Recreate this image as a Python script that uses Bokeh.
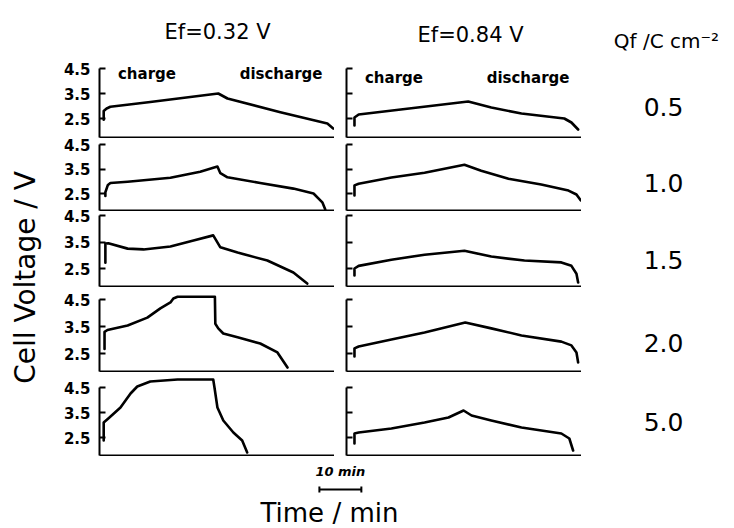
import math
from bokeh.plotting import figure
from bokeh.layouts import row, column
from bokeh.models import Range1d, FixedTicker, LinearAxis
from bokeh.embed import file_html
from bokeh.resources import INLINE
from bokeh.core.properties import value

# ---------------- data ----------------
col_titles = ["Ef=0.32 V", "Ef=0.84 V"]
qf_title = "Qf /C cm\u207b\u00b2"
qf_values = ["0.5", "1.0", "1.5", "2.0", "5.0"]
y_ticks = [2.5, 3.5, 4.5]
phase_labels = ["charge", "discharge"]
phase_label_t = [4.4, 33.4]
scale_bar_start = 52.4
scale_bar_len = 10

# Ef = 0.32 V (left column), time in min, voltage in V
t_l1 = [1.0, 1.0, 1.7, 2.6, 12.1, 28.3, 30.5, 43.1, 54.3, 55.7]
v_l1 = [2.45, 2.8, 2.9, 2.97, 3.16, 3.5, 3.3, 2.75, 2.3, 2.1]
t_l2 = [1.4, 1.4, 2.0, 2.6, 6.7, 16.9, 24.0, 28.1, 28.8, 30.5, 38.3, 46.2, 51.0, 53.1, 53.8]
v_l2 = [2.4, 2.55, 2.85, 2.93, 2.98, 3.14, 3.39, 3.6, 3.33, 3.16, 2.93, 2.7, 2.5, 2.14, 1.85]
t_l3 = [1.4, 1.4, 2.1, 6.7, 10.5, 16.9, 22.4, 27.1, 28.8, 32.9, 40.0, 46.2, 49.5]
v_l3 = [2.72, 3.44, 3.45, 3.25, 3.22, 3.33, 3.56, 3.75, 3.3, 3.1, 2.8, 2.35, 1.93]
t_l4 = [1.2, 1.2, 1.9, 6.7, 11.4, 14.5, 16.9, 17.6, 18.6, 27.5, 27.6, 28.3, 29.5, 32.9, 38.3, 42.4, 44.8]
v_l4 = [2.67, 3.3, 3.37, 3.54, 3.83, 4.17, 4.39, 4.54, 4.6, 4.6, 3.6, 3.43, 3.24, 3.1, 2.87, 2.54, 1.98]
t_l5 = [1.0, 1.0, 2.1, 5.0, 7.4, 9.0, 12.1, 18.6, 27.1, 27.4, 28.1, 29.5, 31.9, 34.0, 35.2]
v_l5 = [2.38, 3.1, 3.26, 3.7, 4.26, 4.54, 4.74, 4.82, 4.82, 4.5, 3.7, 3.18, 2.7, 2.38, 1.9]

# Ef = 0.84 V (right column)
t_r1 = [1.9, 1.9, 2.9, 29.0, 34.5, 41.7, 51.9, 53.6, 55.2]
v_r1 = [2.22, 2.54, 2.66, 3.18, 2.94, 2.7, 2.5, 2.34, 2.06]
t_r2 = [1.9, 1.9, 2.9, 10.7, 18.6, 28.1, 32.1, 38.6, 46.4, 52.9, 54.8, 55.8]
v_r2 = [2.42, 2.83, 2.9, 3.15, 3.35, 3.67, 3.43, 3.1, 2.87, 2.62, 2.46, 2.22]
t_r3 = [1.9, 1.9, 2.9, 10.7, 18.6, 28.1, 34.5, 42.4, 51.2, 53.6, 54.8, 55.2]
v_r3 = [2.24, 2.5, 2.6, 2.83, 3.02, 3.17, 2.95, 2.8, 2.73, 2.6, 2.3, 1.97]
t_r4 = [1.9, 1.9, 2.9, 10.7, 18.6, 28.3, 34.5, 41.7, 51.2, 53.6, 54.8, 55.2]
v_r4 = [2.39, 2.69, 2.76, 3.02, 3.28, 3.65, 3.43, 3.17, 2.94, 2.8, 2.54, 2.17]
t_r5 = [1.9, 1.9, 2.9, 10.7, 18.6, 24.3, 27.9, 29.8, 34.5, 41.7, 51.2, 53.1, 54.0]
v_r5 = [2.26, 2.66, 2.7, 2.86, 3.1, 3.3, 3.58, 3.38, 3.18, 2.9, 2.66, 2.46, 1.98]

left_series = [(t_l1, v_l1), (t_l2, v_l2), (t_l3, v_l3), (t_l4, v_l4), (t_l5, v_l5)]
right_series = [(t_r1, v_r1), (t_r2, v_r2), (t_r3, v_r3), (t_r4, v_r4), (t_r5, v_r5)]

# ---------------- layout (pixels) ----------------
W, H = 734, 528
HEAD_H = 60
row_edges = [60, 138, 211, 287, 372, 456]        # panel row boundaries (x-axis lines)
label_edges = [60, 131, 204, 283, 370, 456]      # boundaries of tick-label strips
px_per_volt = [25, 24.5, 26.5, 27, 25]
px_of_2p5 = [118, 193, 268, 353, 437]
qf_label_px = [107, 183, 260, 343, 422]
T_MAX = 56
FONT_NAME = "DejaVu Sans"
FONT = value(FONT_NAME)
W_YLAB, W_LAB, W_LEFT, W_RIGHT = 58, 39, 237, 247
W_QF = W - W_YLAB - W_LAB - W_LEFT - W_RIGHT
FOOT_H = H - row_edges[-1]


def v_at(i, px):
    return 2.5 + (px_of_2p5[i] - px) / px_per_volt[i]


def blank(width, height, xr, yr):
    p = figure(width=width, height=height, x_range=xr, y_range=yr,
               output_backend="svg", toolbar_location=None,
               x_axis_location=None, y_axis_location=None,
               min_border_left=0, min_border_right=0, min_border_top=0, min_border_bottom=0)
    p.grid.visible = False
    p.outline_line_color = None
    p.background_fill_color = "white"
    p.border_fill_color = "white"
    return p


def panel(i, t, v, width, border_left, phase_y=None):
    top, bot = row_edges[i], row_edges[i + 1]
    yr = Range1d(v_at(i, bot - 1), v_at(i, top))
    p = blank(width, bot - top, Range1d(0, T_MAX), yr)
    p.min_border_left = border_left
    p.min_border_bottom = 1
    yax = LinearAxis(ticker=FixedTicker(ticks=y_ticks), bounds=(yr.start, 4.5),
                     major_tick_in=6, major_tick_out=0, minor_tick_line_color=None,
                     axis_line_width=2, major_tick_line_width=2, major_label_standoff=0,
                     major_label_overrides={tk: "" for tk in y_ticks})
    p.add_layout(yax, "left")
    xax = LinearAxis(ticker=FixedTicker(ticks=[]), major_tick_in=0, major_tick_out=0,
                     minor_tick_line_color=None, axis_line_width=2, major_label_standoff=0)
    p.add_layout(xax, "below")
    p.line(t, v, line_width=2.6, color="black", line_join="round", line_cap="round")
    if phase_y is not None:
        p.text(x=phase_label_t, y=[phase_y, phase_y], text=phase_labels,
               text_font=FONT, text_font_style="bold", text_font_size="15px",
               text_align="left", text_baseline="middle", text_color="black")
    return p


def tick_label_strip(i):
    top, bot = label_edges[i], label_edges[i + 1]
    p = blank(W_LAB, bot - top, Range1d(0, 1), Range1d(v_at(i, bot), v_at(i, top)))
    p.min_border_left = W_LAB - 1
    ax = LinearAxis(ticker=FixedTicker(ticks=y_ticks), axis_line_color=None,
                    major_tick_line_color=None, minor_tick_line_color=None,
                    major_tick_in=0, major_tick_out=0, major_label_standoff=6,
                    major_label_text_font=FONT_NAME, major_label_text_font_style="bold",
                    major_label_text_font_size="15px", major_label_text_color="black")
    p.add_layout(ax, "left")
    return p


rows = []
strips = []
for i in range(5):
    lp = panel(i, *left_series[i], W_LEFT, 2, v_at(0, 73) if i == 0 else None)
    rp = panel(i, *right_series[i], W_RIGHT, 12, v_at(0, 77) if i == 0 else None)
    top, bot = row_edges[i], row_edges[i + 1]
    qp = blank(W_QF, bot - top, Range1d(0, 1), Range1d(v_at(i, bot), v_at(i, top)))
    qp.text(x=[0.536], y=[v_at(i, qf_label_px[i])], text=[qf_values[i]], text_font=FONT,
            text_font_size="25px", text_align="center", text_baseline="middle",
            text_color="black")
    rows.append(row(lp, rp, qp))
    strips.append(tick_label_strip(i))

panels_h = row_edges[-1] - row_edges[0]

# y label
ylab = blank(W_YLAB, panels_h, Range1d(0, W_YLAB), Range1d(0, panels_h))
ylab.text(x=[25], y=[row_edges[-1] - 277], text=["Cell Voltage / V"], angle=math.pi / 2,
          text_font=FONT, text_font_size="28px", text_align="center",
          text_baseline="middle", text_color="black")

# header (y measured from its bottom)
head = blank(W, HEAD_H, Range1d(0, W), Range1d(0, HEAD_H))
head.text(x=[217, 470], y=[HEAD_H - 31, HEAD_H - 34], text=col_titles, text_font=FONT,
          text_font_size="21px", text_align="center", text_baseline="middle",
          text_color="black")
head.text(x=[666], y=[HEAD_H - 40], text=[qf_title], text_font=FONT, text_font_size="20px",
          text_align="center", text_baseline="middle", text_color="black")

# footer: x in minutes aligned with the left panels
px_per_min = 235 / T_MAX
x0 = -(W_YLAB + W_LAB + 2) / px_per_min
foot = blank(W, FOOT_H, Range1d(x0, x0 + W / px_per_min), Range1d(0, FOOT_H))
bar_end = scale_bar_start + scale_bar_len
bar_y = H - 489
foot.segment(x0=[scale_bar_start], y0=[bar_y], x1=[bar_end], y1=[bar_y], line_width=2, color="black")
foot.segment(x0=[scale_bar_start, bar_end], y0=[bar_y - 3, bar_y - 3], x1=[scale_bar_start, bar_end],
             y1=[bar_y + 3, bar_y + 3], line_width=2, color="black")
foot.text(x=[scale_bar_start + scale_bar_len / 2], y=[H - 471], text=["10 min"], text_font=FONT,
          text_font_style="bold italic", text_font_size="13px", text_align="center",
          text_baseline="middle", text_color="black")
foot.text(x=[54.8], y=[16], text=["Time / min"], text_font=FONT, text_font_size="26px",
          text_align="center", text_baseline="middle", text_color="black")

layout = column(head, row(ylab, column(*strips), column(*rows)), foot)

open("out.html", "w").write(file_html(layout, INLINE))
